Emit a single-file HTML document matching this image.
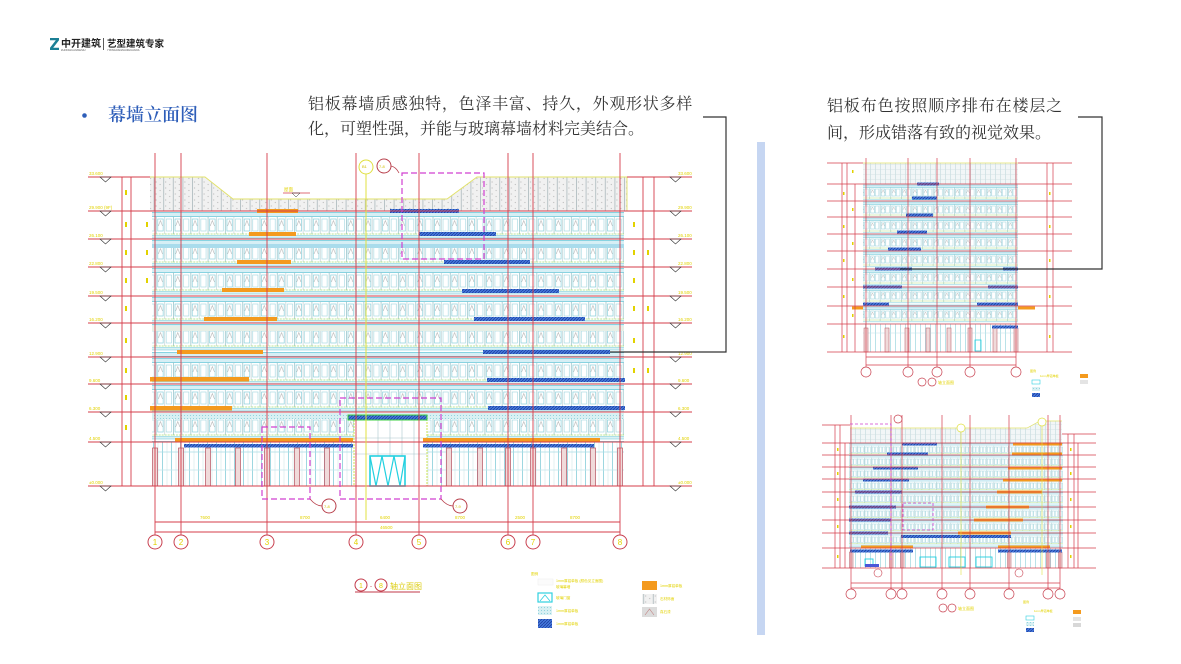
<!DOCTYPE html>
<html><head><meta charset="utf-8">
<style>
html,body{margin:0;padding:0;background:#fff;}
body{width:1181px;height:664px;position:relative;overflow:hidden;font-family:"Liberation Sans","Noto Sans CJK SC",sans-serif;}
.t{position:absolute;font-family:"Liberation Serif","Noto Serif CJK SC",serif;font-size:16px;line-height:16px;color:#333;white-space:nowrap;}
svg{position:absolute;left:0;top:0;}
</style></head><body>
<svg width="1181" height="664" viewBox="0 0 1181 664" font-family="Liberation Sans, Noto Sans CJK SC, sans-serif">
<defs>
  <pattern id="pw" patternUnits="userSpaceOnUse" width="17.3" height="28">
    <rect width="17.3" height="28" fill="#fff"/>
    <rect x="0" y="1.5" width="17.3" height="4" fill="#d6eff5"/>
    <line x1="0" y1="1.5" x2="17.3" y2="1.5" stroke="#66c8d9" stroke-width="0.7"/>
    <line x1="0" y1="5.5" x2="17.3" y2="5.5" stroke="#66c8d9" stroke-width="0.7"/>
    <line x1="0.5" y1="5.5" x2="0.5" y2="23" stroke="#9cc6cc" stroke-width="0.8"/>
    <rect x="2" y="8" width="5.5" height="12" fill="none" stroke="#78c8d6" stroke-width="0.6"/>
    <path d="M2.6 15 L4.75 9.5 L6.9 15" fill="none" stroke="#aaa" stroke-width="0.5"/>
    <line x1="9" y1="5.5" x2="9" y2="23" stroke="#b4cccf" stroke-width="0.6"/>
    <rect x="10.5" y="8" width="5.3" height="12" fill="none" stroke="#96d2dc" stroke-width="0.55"/>
    <line x1="0" y1="23" x2="17.3" y2="23" stroke="#a3dd70" stroke-width="0.8" stroke-dasharray="2 1"/>
    <rect x="0" y="24.5" width="17.3" height="2.5" fill="#d9f1f5"/>
    <line x1="0" y1="24.5" x2="17.3" y2="24.5" stroke="#6cc8d8" stroke-width="0.5"/>
    <line x1="0" y1="27" x2="17.3" y2="27" stroke="#6cc8d8" stroke-width="0.5"/>
  </pattern>
  <pattern id="pw2" patternUnits="userSpaceOnUse" width="10.6" height="17">
    <rect width="10.6" height="17" fill="#fff"/>
    <rect x="0" y="1" width="10.6" height="2.5" fill="#d3eef5"/>
    <line x1="0" y1="1" x2="10.6" y2="1" stroke="#6cc8d8" stroke-width="0.5"/>
    <line x1="0" y1="3.5" x2="10.6" y2="3.5" stroke="#6cc8d8" stroke-width="0.5"/>
    <line x1="0.3" y1="3.5" x2="0.3" y2="15" stroke="#9cc6cc" stroke-width="0.6"/>
    <rect x="1.5" y="5" width="3.6" height="7" fill="none" stroke="#8ccbd6" stroke-width="0.5"/>
    <path d="M1.8 9 L3.3 6 L4.8 9" fill="none" stroke="#aaa" stroke-width="0.4"/>
    <rect x="6" y="5" width="3.6" height="7" fill="none" stroke="#9cd2dc" stroke-width="0.5"/>
    <line x1="0" y1="14" x2="10.6" y2="14" stroke="#b0e080" stroke-width="0.5"/>
    <line x1="0" y1="15.8" x2="10.6" y2="15.8" stroke="#7ccfdc" stroke-width="0.6"/>
  </pattern>
  <pattern id="pw3" patternUnits="userSpaceOnUse" width="7.2" height="13">
    <rect width="7.2" height="13" fill="#fff"/>
    <rect x="0" y="0.8" width="7.2" height="2" fill="#d3eef5"/>
    <line x1="0" y1="0.8" x2="7.2" y2="0.8" stroke="#6cc8d8" stroke-width="0.4"/>
    <line x1="0.3" y1="2.8" x2="0.3" y2="11" stroke="#9cc6cc" stroke-width="0.5"/>
    <rect x="1" y="4" width="2.4" height="5.5" fill="none" stroke="#8ccbd6" stroke-width="0.4"/>
    <rect x="4" y="4" width="2.4" height="5.5" fill="none" stroke="#9cd2dc" stroke-width="0.4"/>
    <line x1="0" y1="10.5" x2="7.2" y2="10.5" stroke="#b0e080" stroke-width="0.4"/>
    <line x1="0" y1="12" x2="7.2" y2="12" stroke="#7ccfdc" stroke-width="0.5"/>
  </pattern>
  <pattern id="pgf" patternUnits="userSpaceOnUse" width="9" height="44">
    <rect width="9" height="44" fill="#fff"/>
    <line x1="0.5" y1="0" x2="0.5" y2="44" stroke="#86cdd9" stroke-width="0.8"/>
    <line x1="5" y1="0" x2="5" y2="44" stroke="#c8e2e6" stroke-width="0.5"/>
  </pattern>
  <pattern id="pgs" patternUnits="userSpaceOnUse" width="5" height="30">
    <rect width="5" height="30" fill="#fff"/>
    <line x1="0.5" y1="0" x2="0.5" y2="30" stroke="#8ccfda" stroke-width="0.6"/>
  </pattern>
  <pattern id="pd" patternUnits="userSpaceOnUse" width="9.6" height="6">
    <rect width="9.6" height="6" fill="#f1f1f1"/>
    <circle cx="2.5" cy="2" r="0.6" fill="#bdbdbd"/>
    <circle cx="6.5" cy="4.5" r="0.6" fill="#bdbdbd"/>
    <line x1="0.5" y1="0" x2="0.5" y2="6" stroke="#aab8bc" stroke-width="0.8"/>
  </pattern>
  <pattern id="pd2" patternUnits="userSpaceOnUse" width="5" height="5">
    <rect width="5" height="5" fill="#f2f6f7"/>
    <line x1="0.5" y1="0" x2="0.5" y2="5" stroke="#b6d2d8" stroke-width="0.5"/>
    <line x1="0" y1="4.5" x2="5" y2="4.5" stroke="#d0dde0" stroke-width="0.4"/>
  </pattern>
  <pattern id="pb" patternUnits="userSpaceOnUse" width="3" height="3">
    <rect width="3" height="3" fill="#4479dc"/>
    <path d="M0 3 L3 0" stroke="#1f3e9e" stroke-width="0.8"/>
  </pattern>
  <pattern id="pcy" patternUnits="userSpaceOnUse" width="3" height="3">
    <rect width="3" height="3" fill="#d8f0f3"/>
    <circle cx="1.5" cy="1.5" r="0.5" fill="#7ccad6"/>
  </pattern>
</defs>

<!-- logo -->
<path d="M50 38 H59 V40.2 L53.2 47.8 H59 V50 H50 V47.8 L55.8 40.2 H50 Z" fill="#1b7f95"/>
<text x="61" y="47" font-size="10" font-weight="bold" fill="#222">中开建筑</text>
<line x1="103.5" y1="38" x2="103.5" y2="50" stroke="#333" stroke-width="0.8"/>
<text x="107" y="47" font-size="9.5" font-weight="bold" fill="#222">艺型建筑专家</text>
<text x="61" y="51" font-size="2.6" fill="#555">ZHONGKAIJIANZHU</text>
<text x="107" y="51" font-size="2.6" fill="#555">YIXINGJIANZHUZHUANJIA</text>

<!-- title bullet -->
<circle cx="84.5" cy="115.5" r="2.3" fill="#2e5eb9"/>

<!-- vertical divider bar -->
<rect x="757" y="142" width="8" height="493" fill="#c6d6f2"/>

<!-- ================= MAIN ELEVATION ================= -->
<polygon points="150,177 205,177 233,199 447,199 477,177 627,177 627,211 150,211" fill="url(#pd)"/>
<polyline points="150,177 205,177 233,199 447,199 477,177 627,177 627,211" fill="none" stroke="#e2e26a" stroke-width="0.9"/>

<g transform="translate(0,211)"><rect x="152" width="472" height="28" fill="url(#pw)"/></g>
<g transform="translate(0,239)"><rect x="152" width="472" height="28" fill="url(#pw)"/></g>
<g transform="translate(0,267)"><rect x="152" width="472" height="29" fill="url(#pw)"/></g>
<g transform="translate(0,296)"><rect x="152" width="472" height="27" fill="url(#pw)"/></g>
<g transform="translate(0,323)"><rect x="152" width="472" height="34" fill="url(#pw)"/></g>
<g transform="translate(0,357)"><rect x="152" width="472" height="27" fill="url(#pw)"/></g>
<g transform="translate(0,384)"><rect x="152" width="472" height="28" fill="url(#pw)"/></g>
<g transform="translate(0,412)"><rect x="152" width="472" height="30" fill="url(#pw)"/></g>
<rect x="152" y="244" width="472" height="4" fill="#a9dcec"/>
<rect x="152" y="413" width="472" height="6" fill="url(#pcy)"/>
<rect x="152" y="326" width="472" height="5" fill="#e6efe6"/>

<!-- ground floor -->
<rect x="152" y="442" width="472" height="44" fill="url(#pgf)"/>
<line x1="152" y1="452" x2="624" y2="452" stroke="#a8dbe4" stroke-width="0.7"/>
<line x1="152" y1="470" x2="624" y2="470" stroke="#c0e4ea" stroke-width="0.7"/>
<g fill="#f0dada" stroke="#b4505e" stroke-width="0.7">
<rect x="152.5" y="448" width="5" height="38"/><rect x="178.5" y="448" width="5" height="38"/>
<rect x="205.5" y="448" width="5" height="38"/><rect x="235.5" y="448" width="5" height="38"/>
<rect x="264.5" y="448" width="5" height="38"/><rect x="294.5" y="448" width="5" height="38"/>
<rect x="324.5" y="448" width="5" height="38"/><rect x="446.5" y="448" width="5" height="38"/>
<rect x="477.5" y="448" width="5" height="38"/><rect x="505.5" y="448" width="5" height="38"/>
<rect x="530.5" y="448" width="5" height="38"/><rect x="561.5" y="448" width="5" height="38"/>
<rect x="590.5" y="448" width="5" height="38"/><rect x="617.5" y="448" width="5" height="38"/>
</g>
<!-- entrance -->
<rect x="354" y="420" width="73" height="66" fill="#fff" stroke="#c8e040" stroke-width="0.9" stroke-dasharray="2 1"/>
<g stroke="#a9c6cc" stroke-width="0.6">
<line x1="366" y1="420" x2="366" y2="486"/><line x1="378" y1="420" x2="378" y2="486"/>
<line x1="390" y1="420" x2="390" y2="486"/><line x1="402" y1="420" x2="402" y2="486"/>
<line x1="414" y1="420" x2="414" y2="486"/><line x1="354" y1="438" x2="427" y2="438"/>
<line x1="354" y1="454" x2="427" y2="454"/></g>
<rect x="370" y="456" width="35" height="30" fill="#fff" stroke="#22d0e0" stroke-width="1.6"/>
<path d="M370 456 L376 486 L382 456 L388 486 L394 456 L400 486 L405 456" fill="none" stroke="#22d0e0" stroke-width="1.2"/>
<rect x="348" y="415" width="79" height="5" fill="url(#pb)" stroke="#3ed040" stroke-width="1"/>

<!-- orange bars main -->
<g fill="#f49a1e">
<rect x="257" y="209" width="41" height="4"/><rect x="249" y="232" width="47" height="4"/>
<rect x="237" y="260" width="54" height="4"/><rect x="222" y="288" width="62" height="4"/>
<rect x="204" y="317" width="73" height="4"/><rect x="177" y="350" width="86" height="4"/>
<rect x="150" y="377" width="99" height="4.5"/><rect x="150" y="406" width="82" height="4.5"/>
<rect x="175" y="438" width="178" height="4"/><rect x="423" y="438" width="177" height="4"/>
</g>
<!-- blue bars main -->
<g fill="url(#pb)">
<rect x="390" y="209" width="69" height="4"/><rect x="419" y="232" width="77" height="4"/>
<rect x="444" y="260" width="86" height="4"/><rect x="462" y="289" width="97" height="4"/>
<rect x="474" y="317" width="111" height="4"/><rect x="483" y="350" width="127" height="4"/>
<rect x="487" y="378" width="138" height="4"/><rect x="488" y="406" width="137" height="4"/>
<rect x="184" y="444" width="169" height="3.5"/><rect x="423" y="444" width="171" height="3.5"/>
</g>

<!-- red grid main -->
<g stroke="#d43c4a" stroke-width="0.9">
<line x1="155" y1="153" x2="155" y2="535"/><line x1="181" y1="153" x2="181" y2="535"/>
<line x1="267" y1="153" x2="267" y2="535"/><line x1="356" y1="153" x2="356" y2="535"/>
<line x1="419" y1="153" x2="419" y2="535"/><line x1="508" y1="153" x2="508" y2="535"/>
<line x1="533" y1="153" x2="533" y2="535"/><line x1="620" y1="153" x2="620" y2="535"/>
<line x1="88" y1="211" x2="692" y2="211"/><line x1="88" y1="239" x2="692" y2="239"/>
<line x1="88" y1="267" x2="692" y2="267"/><line x1="88" y1="296" x2="692" y2="296"/>
<line x1="88" y1="323" x2="692" y2="323"/><line x1="88" y1="357" x2="692" y2="357"/>
<line x1="88" y1="384" x2="692" y2="384"/><line x1="88" y1="412" x2="692" y2="412"/>
<line x1="88" y1="442" x2="692" y2="442"/><line x1="88" y1="486" x2="692" y2="486"/>
<line x1="88" y1="177" x2="150" y2="177"/><line x1="627" y1="177" x2="692" y2="177"/>
<line x1="122" y1="177" x2="122" y2="486"/><line x1="131" y1="177" x2="131" y2="486"/>
<line x1="643" y1="177" x2="643" y2="486"/><line x1="654" y1="177" x2="654" y2="486"/>
<line x1="155" y1="522" x2="620" y2="522"/><line x1="155" y1="532" x2="620" y2="532"/>
</g>
<g fill="none" stroke="#333" stroke-width="0.6">
<path d="M100 177 L111 177 L105.5 182 Z"/><path d="M100 211 L111 211 L105.5 216 Z"/>
<path d="M100 239 L111 239 L105.5 244 Z"/><path d="M100 267 L111 267 L105.5 272 Z"/>
<path d="M100 296 L111 296 L105.5 301 Z"/><path d="M100 323 L111 323 L105.5 328 Z"/>
<path d="M100 357 L111 357 L105.5 362 Z"/><path d="M100 384 L111 384 L105.5 389 Z"/>
<path d="M100 412 L111 412 L105.5 417 Z"/><path d="M100 442 L111 442 L105.5 447 Z"/>
<path d="M100 486 L111 486 L105.5 491 Z"/>
<path d="M670 177 L681 177 L675.5 182 Z"/><path d="M670 211 L681 211 L675.5 216 Z"/>
<path d="M670 239 L681 239 L675.5 244 Z"/><path d="M670 267 L681 267 L675.5 272 Z"/>
<path d="M670 296 L681 296 L675.5 301 Z"/><path d="M670 323 L681 323 L675.5 328 Z"/>
<path d="M670 357 L681 357 L675.5 362 Z"/><path d="M670 384 L681 384 L675.5 389 Z"/>
<path d="M670 412 L681 412 L675.5 417 Z"/><path d="M670 442 L681 442 L675.5 447 Z"/>
<path d="M670 486 L681 486 L675.5 491 Z"/>
</g>
<g fill="#e2d200" font-size="4.5">
<text x="89" y="175">33.600</text><text x="89" y="209">29.900 (9F)</text><text x="89" y="237">26.100</text>
<text x="89" y="265">22.800</text><text x="89" y="294">19.500</text><text x="89" y="321">16.200</text>
<text x="89" y="355">12.900</text><text x="89" y="382">9.600</text><text x="89" y="410">6.300</text>
<text x="89" y="440">4.500</text><text x="89" y="484">±0.000</text>
<text x="678" y="175">33.600</text><text x="678" y="209">29.900</text><text x="678" y="237">26.100</text>
<text x="678" y="265">22.800</text><text x="678" y="294">19.500</text><text x="678" y="321">16.200</text>
<text x="678" y="355">12.900</text><text x="678" y="382">9.600</text><text x="678" y="410">6.300</text>
<text x="678" y="440">4.500</text><text x="678" y="484">±0.000</text>
<text x="200" y="519">7600</text><text x="300" y="519">8700</text><text x="380" y="519">6400</text>
<text x="455" y="519">8700</text><text x="515" y="519">2500</text><text x="570" y="519">8700</text>
<text x="380" y="529">46500</text>
<text x="284" y="191">屋面</text>
</g>
<g fill="#e2d200">
<rect x="125" y="190" width="2" height="5"/><rect x="125" y="222" width="2" height="5"/><rect x="125" y="250" width="2" height="5"/>
<rect x="125" y="278" width="2" height="5"/><rect x="125" y="306" width="2" height="5"/><rect x="125" y="338" width="2" height="5"/>
<rect x="125" y="368" width="2" height="5"/><rect x="125" y="395" width="2" height="5"/><rect x="125" y="425" width="2" height="5"/>
<rect x="146" y="222" width="2" height="5"/><rect x="146" y="250" width="2" height="5"/><rect x="146" y="278" width="2" height="5"/>
<rect x="633" y="222" width="2" height="5"/><rect x="633" y="250" width="2" height="5"/><rect x="633" y="278" width="2" height="5"/>
<rect x="633" y="306" width="2" height="5"/><rect x="633" y="338" width="2" height="5"/><rect x="633" y="368" width="2" height="5"/>
<rect x="647" y="250" width="2" height="5"/><rect x="647" y="306" width="2" height="5"/><rect x="647" y="368" width="2" height="5"/>
</g>
<line x1="283" y1="193" x2="310" y2="193" stroke="#d43c4a" stroke-width="0.8"/>
<path d="M292 193 L300 193 L296 197 Z" fill="none" stroke="#333" stroke-width="0.5"/>

<!-- yellow axis & callouts -->
<line x1="366" y1="160" x2="366" y2="520" stroke="#e0e040" stroke-width="1"/>
<circle cx="366" cy="167" r="7" fill="#fff" stroke="#e0e040" stroke-width="1"/>
<circle cx="384" cy="166" r="7" fill="#fff" stroke="#b8404c" stroke-width="1"/>
<text x="379" y="168" font-size="4" fill="#d0c000">7-8</text>
<text x="362" y="168" font-size="4" fill="#d0c000">B1</text>
<path d="M391 166 Q396 167 399 173" fill="none" stroke="#b8404c" stroke-width="0.8"/>
<g fill="none" stroke="#d040d0" stroke-width="1.2" stroke-dasharray="6 3">
<rect x="402" y="173" width="82" height="86"/>
<path d="M262 427 H310 V499 H262 Z"/>
<path d="M340 398 H441 V499 H340 Z"/>
</g>
<circle cx="329" cy="506" r="7" fill="#fff" stroke="#b8404c" stroke-width="1"/>
<circle cx="460" cy="506" r="7" fill="#fff" stroke="#b8404c" stroke-width="1"/>
<path d="M310 499 Q316 506 322 506" fill="none" stroke="#b8404c" stroke-width="0.8"/>
<path d="M441 499 Q447 506 453 506" fill="none" stroke="#b8404c" stroke-width="0.8"/>
<text x="324" y="508" font-size="4" fill="#d0c000">7-8</text>
<text x="455" y="508" font-size="4" fill="#d0c000">7-9</text>

<!-- axis circles -->
<g fill="#fff" stroke="#c8404f" stroke-width="1">
<circle cx="155" cy="542" r="7"/><circle cx="181" cy="542" r="7"/><circle cx="267" cy="542" r="7"/>
<circle cx="356" cy="542" r="7"/><circle cx="419" cy="542" r="7"/><circle cx="508" cy="542" r="7"/>
<circle cx="533" cy="542" r="7"/><circle cx="620" cy="542" r="7"/>
</g>
<g fill="#e2d200" font-size="8" text-anchor="middle">
<text x="155" y="545">1</text><text x="181" y="545">2</text><text x="267" y="545">3</text><text x="356" y="545">4</text>
<text x="419" y="545">5</text><text x="508" y="545">6</text><text x="533" y="545">7</text><text x="620" y="545">8</text>
</g>

<!-- drawing title -->
<circle cx="361" cy="585" r="6" fill="#fff" stroke="#c23a4a" stroke-width="1"/>
<circle cx="381" cy="585" r="6" fill="#fff" stroke="#c23a4a" stroke-width="1"/>
<text x="361" y="588" font-size="7" fill="#e2d200" text-anchor="middle">1</text>
<text x="381" y="588" font-size="7" fill="#e2d200" text-anchor="middle">8</text>
<text x="371" y="588" font-size="6" fill="#c23a4a" text-anchor="middle">-</text>
<text x="390" y="589" font-size="8" fill="#dccc10">轴立面图</text>
<line x1="355" y1="592" x2="420" y2="592" stroke="#c23a4a" stroke-width="1"/>

<!-- legend main -->
<g font-size="3.6" fill="#e2d200">
<text x="531" y="575">图例</text>
<rect x="538" y="579" width="15" height="6" fill="#fbfbfb" stroke="#eee" stroke-width="0.5"/>
<text x="556" y="582">1mm厚铝单板 (颜色见立面图)</text><text x="556" y="588">玻璃幕墙</text>
<rect x="538" y="593" width="14" height="9" fill="#fff" stroke="#30d0e0" stroke-width="1.2"/>
<path d="M540 601 L545 595 L550 601" fill="none" stroke="#30d0e0" stroke-width="0.8"/>
<text x="556" y="599">玻璃门窗</text>
<rect x="538" y="606" width="14" height="9" fill="url(#pcy)"/>
<text x="556" y="612">1mm厚铝单板</text>
<rect x="538" y="619" width="14" height="9" fill="url(#pb)"/>
<text x="556" y="625">1mm厚铝单板</text>
<rect x="642" y="581" width="15" height="9" fill="#f49a1e"/>
<text x="660" y="587">1mm厚铝单板</text>
<rect x="642" y="594" width="15" height="10" fill="url(#pd)"/>
<text x="660" y="600">石材饰面</text>
<rect x="642" y="607" width="15" height="10" fill="#dcdcdc"/>
<path d="M645 615 L649.5 609 L654 615" fill="none" stroke="#c08080" stroke-width="0.6"/>
<text x="660" y="613">真石漆</text>
</g>

<!-- ================= TOP RIGHT ELEVATION ================= -->
<rect x="863" y="163" width="155" height="21" fill="url(#pd2)"/>
<line x1="863" y1="163" x2="1018" y2="163" stroke="#e2e26a" stroke-width="0.7"/>
<g transform="translate(0,184)"><rect x="863" width="155" height="17" fill="url(#pw2)"/></g>
<g transform="translate(0,201)"><rect x="863" width="155" height="16" fill="url(#pw2)"/></g>
<g transform="translate(0,217)"><rect x="863" width="155" height="17" fill="url(#pw2)"/></g>
<g transform="translate(0,234)"><rect x="863" width="155" height="17" fill="url(#pw2)"/></g>
<g transform="translate(0,251)"><rect x="863" width="155" height="18" fill="url(#pw2)"/></g>
<g transform="translate(0,269)"><rect x="863" width="155" height="18" fill="url(#pw2)"/></g>
<g transform="translate(0,287)"><rect x="863" width="155" height="19" fill="url(#pw2)"/></g>
<g transform="translate(0,306)"><rect x="863" width="155" height="18" fill="url(#pw2)"/></g>
<rect x="863" y="324" width="155" height="28" fill="url(#pgs)"/>
<line x1="863" y1="333" x2="1018" y2="333" stroke="#c0e4ea" stroke-width="0.5"/>
<g fill="#f0dada" stroke="#b4505e" stroke-width="0.5">
<rect x="864" y="328" width="4" height="24"/><rect x="885" y="328" width="4" height="24"/>
<rect x="905" y="328" width="4" height="24"/><rect x="926" y="328" width="4" height="24"/>
<rect x="947" y="328" width="4" height="24"/><rect x="968" y="328" width="4" height="24"/>
<rect x="993" y="328" width="4" height="24"/><rect x="1014" y="328" width="4" height="24"/>
</g>
<rect x="975" y="340" width="6" height="11" fill="none" stroke="#22d0e0" stroke-width="0.8"/>
<g fill="url(#pb)">
<rect x="917" y="182.5" width="22" height="3"/><rect x="912" y="196.5" width="25" height="3"/>
<rect x="906" y="213.5" width="27" height="3"/><rect x="897" y="230.5" width="30" height="3"/>
<rect x="888" y="247.5" width="33" height="3"/><rect x="875" y="267.5" width="37" height="3"/>
<rect x="1003" y="267.5" width="15" height="3"/><rect x="863" y="285.5" width="39" height="3"/>
<rect x="988" y="285.5" width="30" height="3"/><rect x="863" y="302.5" width="26" height="3"/>
<rect x="977" y="302.5" width="41" height="3"/><rect x="992" y="325.5" width="26" height="3"/>
</g>
<rect x="852" y="306.5" width="11" height="3" fill="#f49a1e"/>
<rect x="1018" y="306.5" width="17" height="3" fill="#f49a1e"/>
<g stroke="#d43c4a" stroke-width="0.7">
<line x1="866" y1="158" x2="866" y2="367"/><line x1="908" y1="158" x2="908" y2="367"/>
<line x1="937" y1="158" x2="937" y2="367"/><line x1="970" y1="158" x2="970" y2="367"/>
<line x1="1016" y1="158" x2="1016" y2="367"/>
<line x1="827" y1="163" x2="863" y2="163"/><line x1="1018" y1="163" x2="1072" y2="163"/>
<line x1="827" y1="184" x2="1072" y2="184"/><line x1="827" y1="201" x2="1072" y2="201"/>
<line x1="827" y1="217" x2="1072" y2="217"/><line x1="827" y1="234" x2="1072" y2="234"/>
<line x1="827" y1="251" x2="1072" y2="251"/><line x1="827" y1="269" x2="1072" y2="269"/>
<line x1="827" y1="287" x2="1072" y2="287"/><line x1="827" y1="306" x2="1072" y2="306"/>
<line x1="827" y1="324" x2="1072" y2="324"/><line x1="827" y1="352" x2="1072" y2="352"/>
<line x1="842" y1="163" x2="842" y2="352"/><line x1="847" y1="163" x2="847" y2="352"/>
<line x1="855" y1="184" x2="855" y2="352"/>
<line x1="1047" y1="163" x2="1047" y2="352"/><line x1="1053" y1="163" x2="1053" y2="352"/>
<line x1="866" y1="357" x2="1016" y2="357"/><line x1="866" y1="365" x2="1016" y2="365"/>
</g>
<g fill="#e2d200">
<rect x="843" y="192" width="1.5" height="3"/><rect x="843" y="225" width="1.5" height="3"/><rect x="843" y="259" width="1.5" height="3"/>
<rect x="843" y="295" width="1.5" height="3"/><rect x="843" y="335" width="1.5" height="3"/>
<rect x="1049" y="192" width="1.5" height="3"/><rect x="1049" y="225" width="1.5" height="3"/><rect x="1049" y="259" width="1.5" height="3"/>
<rect x="1049" y="295" width="1.5" height="3"/><rect x="1049" y="335" width="1.5" height="3"/>
<rect x="852" y="170" width="1.5" height="3"/><rect x="852" y="208" width="1.5" height="3"/><rect x="852" y="242" width="1.5" height="3"/>
<rect x="852" y="278" width="1.5" height="3"/><rect x="852" y="314" width="1.5" height="3"/>
</g>
<g fill="#fff" stroke="#c8404f" stroke-width="0.7">
<circle cx="866" cy="372" r="5"/><circle cx="908" cy="372" r="5"/><circle cx="937" cy="372" r="5"/>
<circle cx="970" cy="372" r="5"/><circle cx="1016" cy="372" r="5"/>
<circle cx="922" cy="382" r="4"/><circle cx="932" cy="382" r="4"/>
</g>
<text x="938" y="384" font-size="4" fill="#e2d200">轴立面图</text>
<g font-size="3" fill="#e2d200">
<text x="1030" y="372">图例</text>
<text x="1040" y="377">1mm厚铝单板</text>
<rect x="1080" y="374" width="8" height="4" fill="#f49a1e"/>
<rect x="1080" y="380" width="8" height="4" fill="#e4e4e4"/>
<rect x="1032" y="380" width="8" height="4" fill="#fff" stroke="#30d0e0" stroke-width="0.6"/>
<rect x="1032" y="387" width="8" height="4" fill="url(#pcy)"/>
<rect x="1032" y="393" width="8" height="4" fill="url(#pb)"/>
</g>

<!-- ================= BOTTOM RIGHT ELEVATION ================= -->
<polygon points="850,428 1027,428 1040,421 1062,421 1062,443 850,443" fill="url(#pd2)"/>
<polyline points="850,428 1027,428 1040,421 1062,421" fill="none" stroke="#e2e26a" stroke-width="0.7"/>
<g transform="translate(0,443)"><rect x="849" width="214" height="12" fill="url(#pw3)"/></g>
<g transform="translate(0,455)"><rect x="849" width="214" height="12" fill="url(#pw3)"/></g>
<g transform="translate(0,467)"><rect x="849" width="214" height="12" fill="url(#pw3)"/></g>
<g transform="translate(0,479)"><rect x="849" width="214" height="13" fill="url(#pw3)"/></g>
<g transform="translate(0,492)"><rect x="849" width="214" height="15" fill="url(#pw3)"/></g>
<g transform="translate(0,507)"><rect x="849" width="214" height="13" fill="url(#pw3)"/></g>
<g transform="translate(0,520)"><rect x="849" width="214" height="13" fill="url(#pw3)"/></g>
<g transform="translate(0,533)"><rect x="849" width="214" height="15" fill="url(#pw3)"/></g>
<rect x="849" y="548" width="214" height="20" fill="url(#pgs)"/>
<g fill="#f0dada" stroke="#b4505e" stroke-width="0.5">
<rect x="849.5" y="552" width="3.5" height="16"/><rect x="889.5" y="552" width="3.5" height="16"/>
<rect x="900.5" y="552" width="3.5" height="16"/><rect x="1007.5" y="552" width="3.5" height="16"/>
<rect x="1046.5" y="552" width="3.5" height="16"/><rect x="1058.5" y="552" width="3.5" height="16"/>
</g>
<g fill="none" stroke="#22d0e0" stroke-width="0.9">
<rect x="920" y="557" width="16" height="10"/><rect x="949" y="557" width="16" height="10"/>
<rect x="976" y="557" width="16" height="10"/><rect x="865" y="559" width="8" height="7"/>
</g>
<rect x="865" y="564" width="14" height="3" fill="#4a56d8"/>
<g fill="url(#pb)">
<rect x="902" y="442.5" width="35" height="3"/><rect x="887" y="452.5" width="41" height="3"/>
<rect x="873" y="466.5" width="45" height="3"/><rect x="863" y="478.5" width="46" height="3"/>
<rect x="855" y="490.5" width="47" height="3"/><rect x="849" y="505.5" width="47" height="3"/>
<rect x="849" y="518.5" width="42" height="3"/><rect x="849" y="531.5" width="39" height="3"/>
<rect x="901" y="535" width="110" height="3"/><rect x="850" y="549.5" width="63" height="3"/>
<rect x="998" y="549.5" width="64" height="3"/>
</g>
<g fill="#f49a1e">
<rect x="1013" y="442.5" width="49" height="3"/><rect x="1012" y="452.5" width="50" height="3"/>
<rect x="1008" y="466.5" width="54" height="3"/><rect x="1003" y="478.5" width="59" height="3"/>
<rect x="997" y="490.5" width="45" height="3"/><rect x="986" y="505.5" width="43" height="3"/>
<rect x="974" y="518.5" width="49" height="3"/><rect x="958" y="531.5" width="53" height="3"/>
<rect x="861" y="545.5" width="52" height="3"/><rect x="998" y="545.5" width="52" height="3"/>
</g>
<g stroke="#d43c4a" stroke-width="0.7">
<line x1="851" y1="415" x2="851" y2="589"/><line x1="891" y1="415" x2="891" y2="589"/>
<line x1="902" y1="415" x2="902" y2="589"/><line x1="942" y1="415" x2="942" y2="589"/>
<line x1="970" y1="415" x2="970" y2="589"/><line x1="1009" y1="415" x2="1009" y2="589"/>
<line x1="1048" y1="415" x2="1048" y2="589"/><line x1="1060" y1="415" x2="1060" y2="589"/>
<line x1="822" y1="425" x2="850" y2="425"/><line x1="1062" y1="434" x2="1096" y2="434"/>
<line x1="822" y1="443" x2="1096" y2="443"/><line x1="822" y1="455" x2="1096" y2="455"/>
<line x1="822" y1="467" x2="1096" y2="467"/><line x1="822" y1="479" x2="1096" y2="479"/>
<line x1="822" y1="492" x2="1096" y2="492"/><line x1="822" y1="507" x2="1096" y2="507"/>
<line x1="822" y1="520" x2="1096" y2="520"/><line x1="822" y1="533" x2="1096" y2="533"/>
<line x1="822" y1="548" x2="1096" y2="548"/><line x1="822" y1="568" x2="1096" y2="568"/>
<line x1="835" y1="425" x2="835" y2="568"/><line x1="840" y1="425" x2="840" y2="568"/>
<line x1="845" y1="443" x2="845" y2="568"/>
<line x1="1068" y1="434" x2="1068" y2="568"/><line x1="1074" y1="434" x2="1074" y2="568"/>
<line x1="1078" y1="443" x2="1078" y2="568"/>
<line x1="851" y1="583" x2="1060" y2="583"/><line x1="851" y1="588" x2="1060" y2="588"/>
</g>
<g fill="none" stroke="#d040d0" stroke-width="0.8" stroke-dasharray="3 2">
<path d="M850 424 H891 V560"/>
<path d="M903 503 H933 V530 H903 Z"/>
</g>
<circle cx="898" cy="419" r="4" fill="#fff" stroke="#c8404f" stroke-width="0.7"/>
<circle cx="961" cy="428" r="4" fill="#fff" stroke="#e0e040" stroke-width="0.7"/>
<circle cx="1042" cy="422" r="4" fill="#fff" stroke="#e0e040" stroke-width="0.7"/>
<line x1="961" y1="432" x2="961" y2="575" stroke="#e0e040" stroke-width="0.6"/>
<line x1="1042" y1="426" x2="1042" y2="575" stroke="#e0e040" stroke-width="0.6"/>
<circle cx="878" cy="573" r="4" fill="#fff" stroke="#c8404f" stroke-width="0.6"/>
<circle cx="1019" cy="573" r="4" fill="#fff" stroke="#c8404f" stroke-width="0.6"/>
<g fill="#fff" stroke="#c8404f" stroke-width="0.7">
<circle cx="851" cy="594" r="5"/><circle cx="891" cy="594" r="5"/><circle cx="902" cy="594" r="5"/>
<circle cx="942" cy="594" r="5"/><circle cx="970" cy="594" r="5"/><circle cx="1009" cy="594" r="5"/>
<circle cx="1048" cy="594" r="5"/><circle cx="1060" cy="594" r="5"/>
<circle cx="943" cy="608" r="4"/><circle cx="952" cy="608" r="4"/>
</g>
<text x="958" y="610" font-size="4" fill="#e2d200">轴立面图</text>
<g fill="#e2d200">
<rect x="837" y="448" width="1.5" height="3"/><rect x="837" y="472" width="1.5" height="3"/><rect x="837" y="498" width="1.5" height="3"/>
<rect x="837" y="525" width="1.5" height="3"/><rect x="837" y="555" width="1.5" height="3"/>
<rect x="1070" y="448" width="1.5" height="3"/><rect x="1070" y="472" width="1.5" height="3"/><rect x="1070" y="498" width="1.5" height="3"/>
<rect x="1070" y="525" width="1.5" height="3"/><rect x="1070" y="555" width="1.5" height="3"/>
</g>
<g font-size="3" fill="#e2d200">
<text x="1023" y="603">图例</text>
<text x="1034" y="612">1mm厚铝单板</text>
<rect x="1073" y="610" width="8" height="4" fill="#f49a1e"/>
<rect x="1073" y="617" width="8" height="4" fill="#e4e4e4"/>
<rect x="1073" y="623" width="8" height="4" fill="#d8d8d8"/>
<rect x="1026" y="616" width="8" height="4" fill="#fff" stroke="#30d0e0" stroke-width="0.6"/>
<rect x="1026" y="622" width="8" height="4" fill="url(#pcy)"/>
<rect x="1026" y="628" width="8" height="4" fill="url(#pb)"/>
</g>

<!-- leader lines (on top) -->
<polyline points="703,117 726,117 726,352 610,352" fill="none" stroke="#333" stroke-width="1.2"/>
<polyline points="1078,117 1102,117 1102,269 900,269" fill="none" stroke="#333" stroke-width="1.2"/>
</svg>

<div class="t" style="left:108px;top:105px;font-size:18px;line-height:20px;color:#2e5eb9;font-weight:600;">幕墙立面图</div>
<div class="t" style="left:308px;top:97px;letter-spacing:0.74px;">铝板幕墙质感独特，色泽丰富、持久，外观形状多样</div>
<div class="t" style="left:308px;top:122px;">化，可塑性强，并能与玻璃幕墙材料完美结合。</div>
<div class="t" style="left:827px;top:99px;letter-spacing:0.86px;">铝板布色按照顺序排布在楼层之</div>
<div class="t" style="left:827px;top:126px;">间，形成错落有致的视觉效果。</div>
</body></html>
